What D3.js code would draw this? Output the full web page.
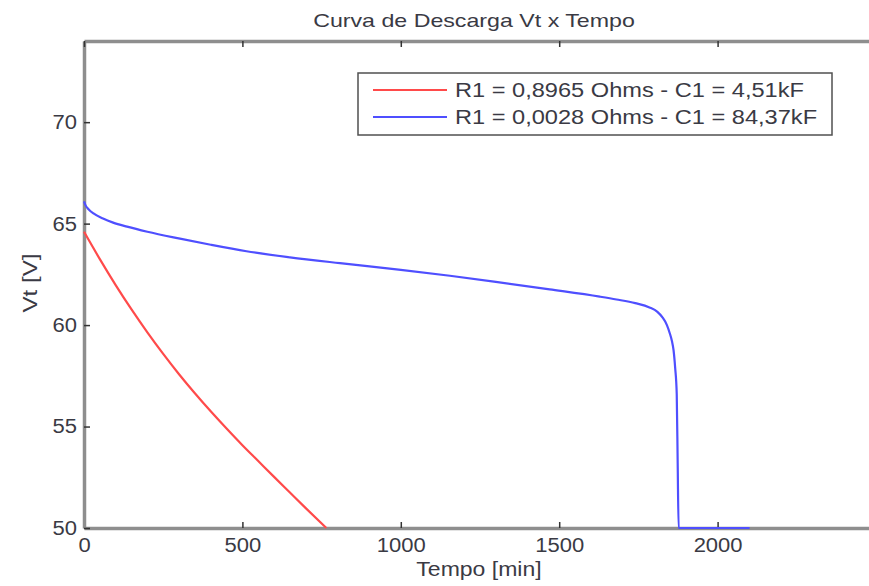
<!DOCTYPE html>
<html>
<head>
<meta charset="utf-8">
<script src="https://cdn.jsdelivr.net/npm/d3@7/dist/d3.min.js"></script>
<style>
  html, body { margin: 0; padding: 0; background: #fff; overflow: hidden; }
  svg { display: block; }
  text { font-family: "Liberation Sans", Arial, sans-serif; fill: #3a3a44; }
</style>
</head>
<body>
<svg id="chart" width="869" height="586"></svg>
<script>
// ---- data ----
const title = "Curva de Descarga Vt x Tempo";
const xLabel = "Tempo [min]";
const yLabel = "Vt [V]";
const xTicks = [0, 500, 1000, 1500, 2000];
const yTicks = [50, 55, 60, 65, 70];
const xDomain = [0, 2500];
const yDomain = [50, 74];

const seriesNames = [
  "R1 = 0,8965 Ohms - C1 = 4,51kF",
  "R1 = 0,0028 Ohms - C1 = 84,37kF"
];
const seriesColors = ["#ff4a4a", "#4f4fff"];

// red series: time [min], voltage [V]
const redT = [0, 50, 100, 150, 200, 250, 300, 350, 400, 450, 500, 550, 600, 650, 700, 765];
const redV = [64.6, 63.25, 61.97, 60.77, 59.64, 58.58, 57.58, 56.64, 55.75, 54.9, 54.08, 53.3, 52.52, 51.75, 50.98, 50.0];

// blue series: time [min], voltage [V]
const blueT = [0, 5, 15, 30, 60, 92, 136, 200, 303, 400, 513, 650, 808, 1000, 1155, 1300, 1470, 1628, 1681, 1740, 1785, 1810, 1826, 1840, 1849, 1856, 1861, 1866, 1871, 1874, 1877, 1950, 2030, 2101];
const blueV = [66.1, 65.9, 65.7, 65.5, 65.25, 65.05, 64.85, 64.6, 64.26, 63.96, 63.64, 63.34, 63.05, 62.72, 62.43, 62.13, 61.76, 61.4, 61.26, 61.08, 60.87, 60.65, 60.38, 60.0, 59.6, 59.2, 58.76, 57.9, 56.6, 53.2, 50.0, 50.0, 50.0, 50.0];

// ---- layout ----
const svg = d3.select("#chart");
const L = 84, R = 876, T = 41, B = 528;
const x = d3.scaleLinear().domain(xDomain).range([L, R]);
const y = d3.scaleLinear().domain(yDomain).range([B, T]);

function stretch(sel, k) {
  sel.each(function () {
    const w = this.getComputedTextLength();
    d3.select(this).attr("textLength", w * k).attr("lengthAdjust", "spacingAndGlyphs");
  });
}

// axes (box with inward ticks)
const axisColor = "#8e8e8e";
function styleAxis(g) {
  g.select(".domain").attr("stroke", axisColor).attr("stroke-width", 3.5);
  g.selectAll(".tick line").attr("stroke", "#333").attr("stroke-width", 1.5);
  g.selectAll(".tick text").attr("font-size", 20).attr("fill", "#3a3a44");
}

const gx = svg.append("g").attr("transform", `translate(0,${B})`)
  .call(d3.axisBottom(x).tickValues(xTicks).tickSizeInner(-6).tickSizeOuter(0).tickPadding(10).tickFormat(d3.format("d")));
styleAxis(gx);
stretch(gx.selectAll(".tick text"), 1.1);

const gy = svg.append("g").attr("transform", `translate(${L},0)`)
  .call(d3.axisLeft(y).tickValues(yTicks).tickSizeInner(-6).tickSizeOuter(0).tickPadding(7).tickFormat(d3.format("d")));
styleAxis(gy);
stretch(gy.selectAll(".tick text"), 1.1);

const gt = svg.append("g").attr("transform", `translate(0,${T})`)
  .call(d3.axisTop(x).tickValues(xTicks).tickSizeInner(-6).tickSizeOuter(0).tickFormat(""));
styleAxis(gt);

const gr = svg.append("g").attr("transform", `translate(${R},0)`)
  .call(d3.axisRight(y).tickValues(yTicks).tickSizeInner(-6).tickSizeOuter(0).tickFormat(""));
styleAxis(gr);

// lines
const line = d3.line().x(d => x(d[0])).y(d => y(d[1])).curve(d3.curveMonotoneX);
const redData = redT.map((t, i) => [t, redV[i]]);
const blueData = blueT.map((t, i) => [t, blueV[i]]);
[redData, blueData].forEach((data, i) => {
  svg.append("path").datum(data)
    .attr("d", line)
    .attr("fill", "none")
    .attr("stroke", seriesColors[i])
    .attr("stroke-width", 2.2)
    .attr("stroke-linejoin", "round");
});

// title & labels
const tt = svg.append("text").attr("x", 474).attr("y", 27).attr("text-anchor", "middle")
  .attr("font-size", 19).text(title);
stretch(tt, 1.22);

const xl = svg.append("text").attr("x", 479).attr("y", 576).attr("text-anchor", "middle")
  .attr("font-size", 20).text(xLabel);
stretch(xl, 1.15);

const yl = svg.append("text").attr("transform", "translate(37,283) rotate(-90)")
  .attr("text-anchor", "middle").attr("font-size", 21).text(yLabel);
stretch(yl, 1.15);

// legend
const lg = svg.append("g");
lg.append("rect").attr("x", 358).attr("y", 73).attr("width", 474).attr("height", 62)
  .attr("fill", "#fff").attr("stroke", "#505050").attr("stroke-width", 1.5);
seriesNames.forEach((name, i) => {
  const yy = 90 + i * 27;
  lg.append("line").attr("x1", 373).attr("x2", 447).attr("y1", yy).attr("y2", yy)
    .attr("stroke", seriesColors[i]).attr("stroke-width", 2.2);
  const t = lg.append("text").attr("x", 455).attr("y", yy).attr("dy", "0.35em")
    .attr("font-size", 20).text(name);
  stretch(t, 1.18);
});
</script>
</body>
</html>
